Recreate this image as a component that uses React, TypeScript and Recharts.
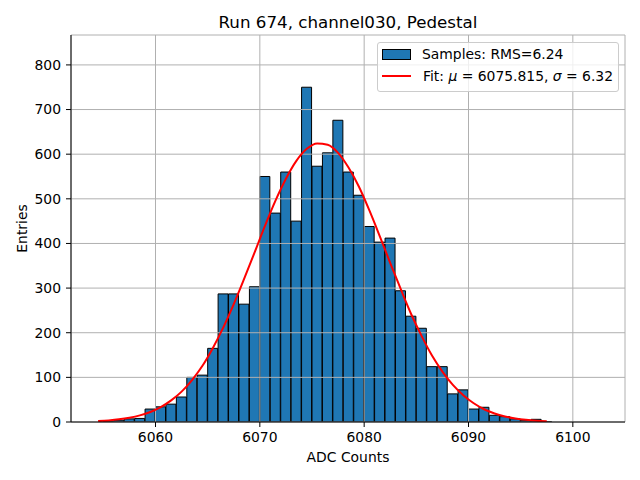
import {
  ComposedChart,
  Bar,
  Line,
  XAxis,
  YAxis,
  CartesianGrid,
  Legend,
} from 'recharts'

const FONT = '"DejaVu Sans", sans-serif'

// bin centres (bin width 1 ADC count)
const binCenters = [
  6054.5, 6055.5, 6056.5, 6057.5, 6058.5, 6059.5, 6060.5, 6061.5, 6062.5, 6063.5,
  6064.5, 6065.5, 6066.5, 6067.5, 6068.5, 6069.5, 6070.5, 6071.5, 6072.5, 6073.5,
  6074.5, 6075.5, 6076.5, 6077.5, 6078.5, 6079.5, 6080.5, 6081.5, 6082.5, 6083.5,
  6084.5, 6085.5, 6086.5, 6087.5, 6088.5, 6089.5, 6090.5, 6091.5, 6092.5, 6093.5,
  6094.5, 6095.5, 6096.5, 6097.5,
]

const counts = [
  0, 1, 4, 7, 8, 29, 34, 40, 56, 100,
  105, 165, 287, 287, 264, 303, 550, 468, 560, 450,
  750, 573, 603, 676, 560, 508, 438, 403, 412, 294,
  237, 210, 124, 124, 63, 72, 29, 33, 15, 12,
  7, 4, 6, 1,
]

// gaussian fit curve read at the bin centres
const fitValues = [
  2.1, 3.6, 5.9, 9.5, 14.8, 22.5, 33.4, 48.4, 68, 94,
  126, 166, 212, 264, 321, 380, 440, 496, 545, 585,
  612, 624, 621, 603, 570, 527, 474, 416, 356, 298,
  242, 193, 149, 113, 83, 60, 42, 28.6, 19, 12.4,
  7.9, 4.9, 2.9, 1.7,
]

const xTicks = [6060, 6070, 6080, 6090, 6100]
const yTicks = [0, 100, 200, 300, 400, 500, 600, 700, 800]
const xDomain = [6051.9, 6105]
const yDomain = [0, 867]

const data = binCenters.map((x, i) => ({ x, count: counts[i], fit: fitValues[i] }))

const tickStyle = { fontSize: 13.9, fill: '#000', fontFamily: FONT }

function LegendBox() {
  return (
    <div
      style={{
        position: 'relative',
        width: 240,
        height: 48,
        border: '1px solid #cccccc',
        borderRadius: 3,
        background: 'rgba(255,255,255,0.8)',
        fontFamily: FONT,
        fontSize: 13.9,
        color: '#000',
        lineHeight: '16px',
      }}
    >
      <div
        style={{
          position: 'absolute',
          left: 4,
          top: 6,
          width: 27,
          height: 9,
          background: '#1f77b4',
          border: '1px solid #000',
        }}
      />
      <div style={{ position: 'absolute', left: 44, top: 3, whiteSpace: 'nowrap' }}>
        Samples: RMS=6.24
      </div>
      <div
        style={{
          position: 'absolute',
          left: 4,
          top: 32,
          width: 29,
          height: 2,
          background: '#ff0000',
        }}
      />
      <div style={{ position: 'absolute', left: 45, top: 25, whiteSpace: 'nowrap' }}>
        Fit: <i>μ</i> = 6075.815, <i>σ</i> = 6.32
      </div>
    </div>
  )
}

export default function App() {
  return (
    <div
      style={{
        position: 'absolute',
        left: 0,
        top: 0,
        width: 640,
        height: 480,
        background: '#fff',
      }}
    >
      <ComposedChart
        width={640}
        height={480}
        data={data}
        margin={{ top: 35, right: 15, left: 0, bottom: 0 }}
        barCategoryGap={0}
        barGap={0}
      >
        <XAxis
          dataKey="x"
          type="number"
          domain={xDomain}
          ticks={xTicks}
          allowDataOverflow
          height={58}
          tick={tickStyle}
          tickSize={5}
          tickMargin={5}
          stroke="#000"
        />
        <XAxis
          xAxisId="top"
          dataKey="x"
          type="number"
          orientation="top"
          domain={xDomain}
          allowDataOverflow
          height={0}
          tick={false}
          tickLine={false}
          stroke="#000"
        />
        <YAxis
          type="number"
          domain={yDomain}
          ticks={yTicks}
          allowDataOverflow
          width={71}
          tick={tickStyle}
          tickSize={5}
          tickMargin={5}
          stroke="#000"
        />
        <YAxis
          yAxisId="right"
          orientation="right"
          type="number"
          domain={yDomain}
          allowDataOverflow
          width={0}
          tick={false}
          tickLine={false}
          stroke="#000"
        />
        <Bar
          dataKey="count"
          name="Samples: RMS=6.24"
          fill="#1f77b4"
          stroke="#000"
          strokeWidth={1}
          isAnimationActive={false}
        />
        {/* matplotlib draws the grid over the patches, under the line */}
        <CartesianGrid stroke="#b0b0b0" strokeWidth={1} zIndex={350} />
        <Line
          dataKey="fit"
          name="Fit"
          type="monotone"
          stroke="#ff0000"
          strokeWidth={2}
          dot={false}
          activeDot={false}
          isAnimationActive={false}
        />
        <Legend
          layout="vertical"
          align="center"
          verticalAlign="middle"
          wrapperStyle={{ left: 377, top: 42, width: 242, height: 50 }}
          content={() => <LegendBox />}
        />
      </ComposedChart>
      <svg
        width={640}
        height={480}
        style={{ position: 'absolute', left: 0, top: 0, pointerEvents: 'none' }}
      >
        <text
          x={348}
          y={27.7}
          textAnchor="middle"
          fontFamily={FONT}
          fontSize={16.7}
          fill="#000"
        >
          Run 674, channel030, Pedestal
        </text>
        <text
          x={348}
          y={462}
          textAnchor="middle"
          fontFamily={FONT}
          fontSize={13.9}
          fill="#000"
        >
          ADC Counts
        </text>
        <text
          transform="translate(27, 228.5) rotate(-90)"
          textAnchor="middle"
          fontFamily={FONT}
          fontSize={13.9}
          fill="#000"
        >
          Entries
        </text>
      </svg>
    </div>
  )
}
